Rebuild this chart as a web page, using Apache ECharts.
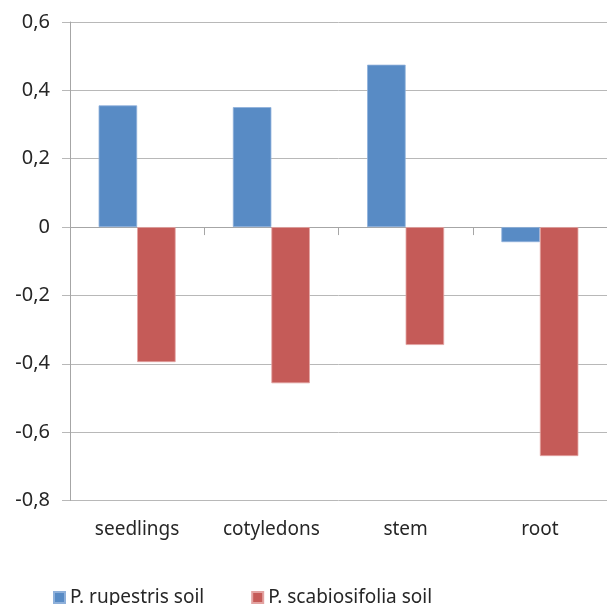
<!DOCTYPE html>
<html>
<head>
<meta charset="utf-8">
<script src="https://cdn.jsdelivr.net/npm/echarts@6/dist/echarts.min.js"></script>
<style>
  html, body { margin: 0; padding: 0; background: #ffffff; }
  #chart { width: 607px; height: 605px; }
</style>
</head>
<body>
<div id="chart"></div>
<script>
// Plant parts on the category axis
const categories = ['seedlings', 'cotyledons', 'stem', 'root'];
// Values for each soil treatment
const rupestrisSoil = [0.356, 0.351, 0.475, -0.044];
const scabiosifoliaSoil = [-0.395, -0.457, -0.345, -0.670];
const seriesNames = ['P. rupestris soil', 'P. scabiosifolia soil'];

const FONT = 'Noto Sans';
const TEXT = '#262626';
const LINE = '#a6a6a6';
const GRID = '#b8b8b8';

const chart = echarts.init(document.getElementById('chart'), null, { renderer: 'canvas' });

chart.setOption({
  animation: false,
  backgroundColor: '#ffffff',
  textStyle: { fontFamily: FONT },
  grid: { left: 70, right: -6, top: 22, bottom: 104.5, containLabel: false },
  legend: {
    left: 48,
    top: 583,
    itemWidth: 11,
    itemHeight: 11,
    itemGap: 47,
    icon: 'rect',
    textStyle: { fontFamily: FONT, fontSize: 19, color: TEXT },
    data: seriesNames
  },
  xAxis: [
    {
      // axis line on zero with ticks between categories
      type: 'category',
      data: categories,
      axisLine: { onZero: true, lineStyle: { color: LINE, width: 1 } },
      axisTick: { show: true, length: 8, lineStyle: { color: LINE } },
      axisLabel: { show: false },
      splitLine: { show: false }
    },
    {
      // category names along the bottom of the plot
      type: 'category',
      data: categories,
      position: 'bottom',
      axisLine: { show: false, onZero: false },
      axisTick: { show: false },
      axisLabel: { show: true, margin: 20, fontFamily: FONT, fontSize: 19, color: TEXT },
      splitLine: { show: false }
    }
  ],
  yAxis: {
    type: 'value',
    min: -0.8,
    max: 0.6,
    interval: 0.2,
    axisLine: { show: true, lineStyle: { color: LINE, width: 1 } },
    axisTick: { show: true, length: 8, lineStyle: { color: GRID } },
    axisLabel: {
      margin: 20,
      fontFamily: FONT,
      fontSize: 20,
      color: TEXT,
      formatter: function (v) {
        const r = Math.round(v * 10) / 10;
        if (r === 0) return '0';
        return r.toFixed(1).replace('.', ',');
      }
    },
    splitLine: { show: true, lineStyle: { color: GRID, width: 1 } }
  },
  series: [
    {
      name: seriesNames[0],
      type: 'bar',
      xAxisIndex: 0,
      data: rupestrisSoil,
      barWidth: 38.5,
      barGap: '0%',
      itemStyle: { color: '#588BC5', borderColor: '#8eb0da', borderWidth: 0.8 }
    },
    {
      name: seriesNames[1],
      type: 'bar',
      xAxisIndex: 0,
      data: scabiosifoliaSoil,
      barWidth: 38.5,
      barGap: '0%',
      itemStyle: { color: '#C55B58', borderColor: '#e3a3a1', borderWidth: 0.8 }
    }
  ]
});
</script>
</body>
</html>
